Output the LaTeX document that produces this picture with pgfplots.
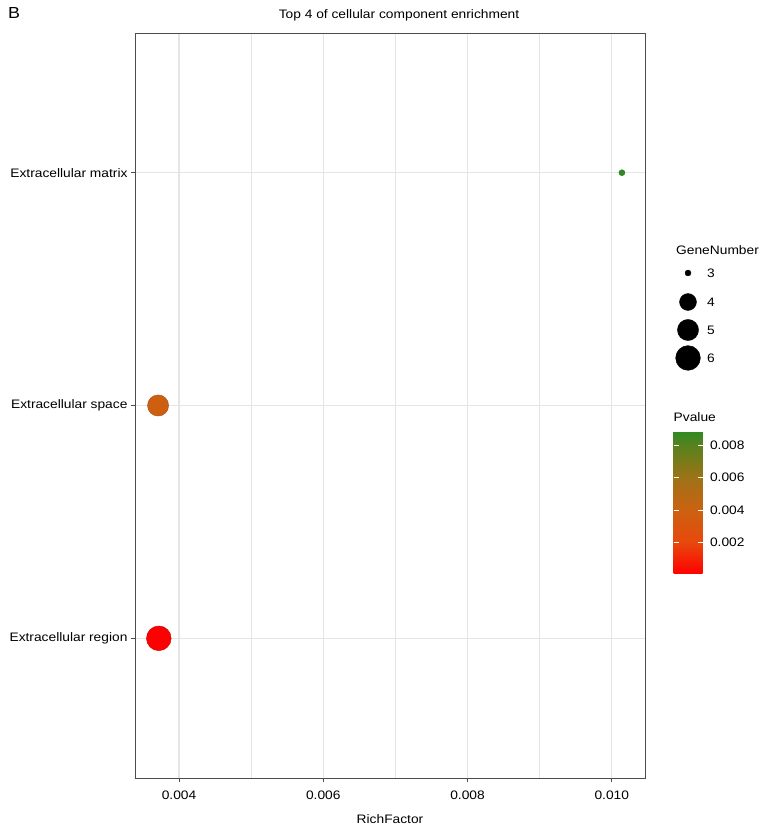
\documentclass[border=0pt]{standalone}
\usepackage{fontspec}
\setmainfont{Liberation Sans}[FakeStretch=1.12]
\usepackage{pgfplots}
\pgfplotsset{compat=1.18}
\usepackage{pgfplotstable}

\definecolor{gridgray}{gray}{0.9}
\definecolor{framegray}{gray}{0.3}
\newcommand\ff{\fontsize{12.3bp}{14bp}\selectfont}

% RichFactor, category (1 = region, 2 = space, 3 = matrix), Pvalue, marker radius (GeneNumber)
\pgfplotstableread{
x       y  p        r
0.00372 1  0.00002  12.4
0.00371 2  0.0038   10.6
0.01014 3  0.0089   3.0
}\cctable

\begin{document}
\begin{tikzpicture}
\path[use as bounding box] (0,0) rectangle (765bp,829bp);

\begin{axis}[
  at={(135bp,51bp)}, anchor=south west,
  scale only axis, width=510bp, height=745bp,
  xmin=0.00339, xmax=0.01046, ymin=0.4, ymax=3.6,
  xtick={0.004,0.006,0.008,0.010}, minor xtick={0.005,0.007,0.009},
  ytick={1,2,3},
  yticklabels={Extracellular region, Extracellular space, Extracellular matrix},
  scaled x ticks=false,
  xticklabel style={yshift=-5bp, /pgf/number format/.cd, fixed, fixed zerofill, precision=3},
  /pgf/number format/assume math mode=true,
  xmajorgrids, xminorgrids, ymajorgrids,
  major grid style={gridgray, line width=1.2bp},
  minor grid style={gridgray, line width=0.7bp},
  axis line style={framegray, line width=0.9bp},
  tick style={framegray, line width=0.9bp},
  tick align=outside, major tick length=4bp, minor tick length=0pt,
  tick pos=left,
  ticklabel style={font=\ff, black},
  xlabel={RichFactor}, xlabel style={font=\ff, yshift=-9bp},
  colormap={pval}{rgb255(0cm)=(255,0,0); rgb255(0.22cm)=(232,72,12);
    rgb255(0.45cm)=(203,98,18); rgb255(0.67cm)=(158,114,22);
    rgb255(0.9cm)=(88,130,30); rgb255(1cm)=(46,139,34)},
  point meta min=0.00002, point meta max=0.0089,
  colorbar,
  colorbar/width=29bp,
  colorbar style={
    at={(parent axis.south east)}, anchor=south west,
    xshift=20bp, yshift=204bp,
    scale only axis, height=143bp,
    ytick={0.002,0.004,0.006,0.008},
    scaled y ticks=false,
    /pgf/number format/assume math mode=true,
    yticklabel style={font=\ff, black, xshift=4bp, /pgf/number format/.cd, fixed, fixed zerofill, precision=3},
    tick align=inside, ytick pos=both, yticklabel pos=right,
    major tick length=5bp, tick style={white, line width=0.8bp},
    axis line style={draw=none},
    title={Pvalue},
    title style={font=\ff, at={(0,1)}, anchor=south west, inner xsep=0pt},
  },
]
\addplot[scatter, only marks, mark=*, scatter src=explicit,
  visualization depends on={\thisrow{r} \as \rad},
  scatter/@pre marker code/.append style={/tikz/mark size=\rad, /tikz/draw=none}]
  table[x=x, y=y, meta=p] {\cctable};
\end{axis}

% GeneNumber size legend (one series per size)
\begin{axis}[
  at={(673bp,459bp)}, anchor=south west,
  scale only axis, width=30bp, height=110bp,
  xmin=0, xmax=30, ymin=-370, ymax=-260,
  hide axis, clip=false,
]
\addplot[only marks, mark=*, black, mark size=3.0] coordinates {(15,-273)};
\addplot[only marks, mark=*, black, mark size=8.5] coordinates {(15,-302)};
\addplot[only marks, mark=*, black, mark size=10.6] coordinates {(15,-330)};
\addplot[only marks, mark=*, black, mark size=12.4] coordinates {(15,-358)};
\node[font=\ff, anchor=west, inner xsep=0pt] at (axis cs:34,-273) {3};
\node[font=\ff, anchor=west, inner xsep=0pt] at (axis cs:34,-302) {4};
\node[font=\ff, anchor=west, inner xsep=0pt] at (axis cs:34,-330) {5};
\node[font=\ff, anchor=west, inner xsep=0pt] at (axis cs:34,-358) {6};
\node[font=\ff, anchor=west, inner xsep=0pt] at (axis cs:3,-250) {GeneNumber};
\end{axis}

\node[font=\ff] at (399bp,814bp) {Top 4 of cellular component enrichment};
\node[font=\fontsize{16bp}{18bp}\selectfont, anchor=west, inner xsep=0pt] at (8bp,816bp) {B};
\end{tikzpicture}
\end{document}
